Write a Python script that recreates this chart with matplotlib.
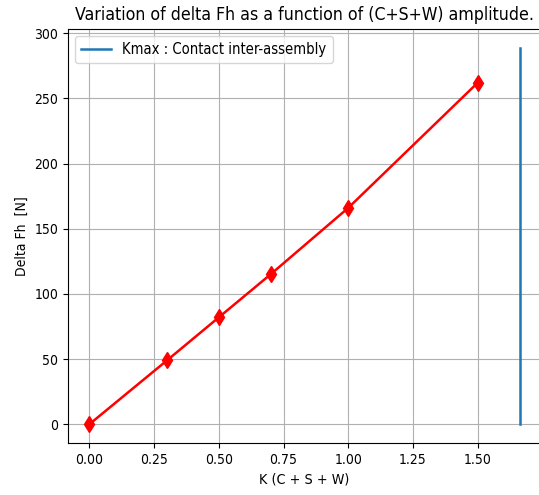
import matplotlib
matplotlib.use("Agg")
import matplotlib.pyplot as plt

k_values = [0.0, 0.3, 0.5, 0.7, 1.0, 1.5]
delta_fh = [0, 49, 82, 115, 166, 262]
kmax = 1.662
kmax_top = 289


def main():
    plt.rcParams["font.stretch"] = "condensed"
    fig = plt.figure(figsize=(5.39, 4.95), dpi=100)
    ax = fig.add_axes([0.126, 0.105, 0.878, 0.837])
    ax.plot(k_values, delta_fh, color="red", marker="d", markersize=8, linewidth=1.8)
    ax.plot([kmax, kmax], [0, kmax_top], linewidth=1.8,
            label="Kmax : Contact inter-assembly")
    ax.grid()
    ax.legend(loc="upper left", prop={"stretch": "condensed", "size": 10.6})
    ax.set_title("Variation of delta Fh as a function of (C+S+W) amplitude.",
                 fontsize=12.7, fontstretch="condensed")
    ax.set_xlabel("K (C + S + W)", fontstretch="condensed", fontsize=10.3)
    ax.set_ylabel("Delta Fh  [N]", fontstretch="condensed")
    fig.savefig("out.png", dpi=100)


if __name__ == "__main__":
    main()
